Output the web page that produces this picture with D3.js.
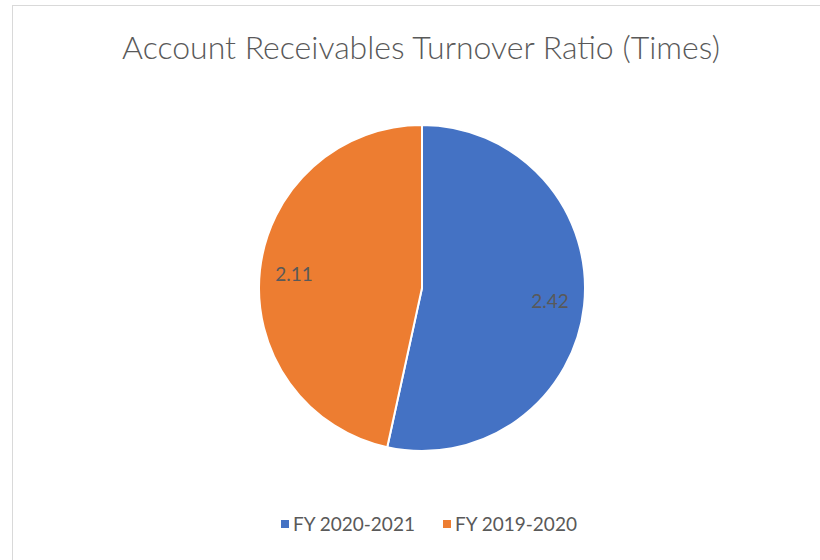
<!DOCTYPE html>
<html>
<head>
<meta charset="utf-8">
<script src="https://cdn.jsdelivr.net/npm/d3@7"></script>
<style>
  body { margin: 0; background: #fff; }
  svg { display: block; font-family: Lato, "Open Sans", sans-serif; }
</style>
</head>
<body>
<div id="chart"></div>
<script>
// chart data
const categories = ["FY 2020-2021", "FY 2019-2020"];
const values = [2.42, 2.11];
const colors = ["#4472C4", "#ED7D31"];

const w = 820, h = 560,
    cx = 422, cy = 288, // pie centre
    r = 163;            // pie radius

const svg = d3.select("#chart")
    .append("svg")
    .attr("width", w)
    .attr("height", h);

// chart area border (right / bottom run off the page)
svg.append("rect")
    .attr("x", 12.5)
    .attr("y", 5.5)
    .attr("width", w + 20)
    .attr("height", h + 20)
    .attr("fill", "#fff")
    .attr("stroke", "#d9d9d9");

svg.append("text")
    .attr("x", 421)
    .attr("y", 59)
    .attr("text-anchor", "middle")
    .attr("fill", "#595959")
    .attr("font-size", 32)
    .attr("font-weight", 300)
    .text("Account Receivables Turnover Ratio (Times)");

const data = categories.map((c, i) => ({ name: c, value: values[i], color: colors[i] }));

const pie = d3.pie()
    .value(d => d.value)
    .sort(null);

const arc = d3.arc().innerRadius(0).outerRadius(r);
const labelArc = d3.arc().innerRadius(r * 0.79).outerRadius(r * 0.79);

const g = svg.append("g")
    .attr("transform", `translate(${cx},${cy})`);

const slices = pie(data);

g.selectAll("path")
    .data(slices)
    .enter()
    .append("path")
    .attr("d", arc)
    .attr("fill", d => d.data.color)
    .attr("stroke", "#fff")
    .attr("stroke-width", 2);

g.selectAll("text")
    .data(slices)
    .enter()
    .append("text")
    .attr("transform", d => `translate(${labelArc.centroid(d)})`)
    .attr("text-anchor", "middle")
    .attr("dy", "0.35em")
    .attr("fill", "#595959")
    .attr("font-size", 19)
    .text(d => d.data.value.toFixed(2));

// legend
const legend = svg.append("g").attr("transform", "translate(0,524)");
const legendX = [281, 443];

const item = legend.selectAll("g")
    .data(data)
    .enter()
    .append("g")
    .attr("transform", (d, i) => `translate(${legendX[i]},0)`);

item.append("rect")
    .attr("x", 0)
    .attr("y", -4)
    .attr("width", 8)
    .attr("height", 8)
    .attr("fill", d => d.color);

item.append("text")
    .attr("x", 12)
    .attr("dy", "0.35em")
    .attr("fill", "#595959")
    .attr("font-size", 19)
    .text(d => d.name);
</script>
</body>
</html>
